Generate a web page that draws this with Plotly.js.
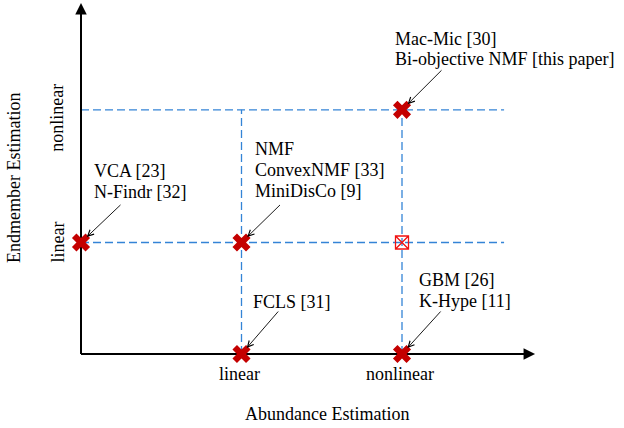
<!DOCTYPE html>
<html>
<head>
<meta charset="utf-8">
<script src="https://cdn.plot.ly/plotly-3.0.1.min.js"></script>
<style>html,body{margin:0;padding:0;background:#fff;}#chart{width:624px;height:428px;}</style>
</head>
<body>
<div id="chart"></div>
<script>
// ---- data ----
const xTickVals = [1, 2];
const xTickLabels = ['linear', 'nonlinear'];
const yTickVals = [1, 2.19];
const yTickLabels = ['linear', 'nonlinear'];
const xAxisTitle = 'Abundance Estimation';
const yAxisTitle = 'Endmember Estimation';

const methodX = [2, 1, 0, 2, 1];
const methodY = [2.19, 1, 1, 0, 0];
const methodLabels = [
  ['Mac-Mic [30]', 'Bi-objective NMF [this paper]'],
  ['NMF', 'ConvexNMF [33]', 'MiniDisCo [9]'],
  ['VCA [23]', 'N-Findr [32]'],
  ['GBM [26]', 'K-Hype [11]'],
  ['FCLS [31]']
];
const emptyX = [2];
const emptyY = [1];

// ---- layout helpers (pixel offsets) ----
const labelOffsets = [
  {dx: -9, dy: -71, sp: 20},
  {dx: 11, dy: -94, sp: 21},
  {dx: 11, dy: -72, sp: 21},
  {dx: 15, dy: -74.5, sp: 21},
  {dx: 9, dy: -52.5, sp: 21}
];
const arrowTails = [[41, -41], [40, -39], [41, -39], [40, -44], [38, -44]];

const font = {family: 'Liberation Serif, Times New Roman, serif', size: 18, color: '#000'};
const blue = '#3484d6';

const traces = [
  {
    x: emptyX, y: emptyY, mode: 'markers', type: 'scatter',
    marker: {symbol: 'square-x-open', size: 13, color: '#f01010', line: {width: 1.3, color: '#f01010'}},
    hoverinfo: 'skip'
  },
  {
    x: methodX, y: methodY, mode: 'markers', type: 'scatter',
    marker: {symbol: 'x', size: 16, color: '#c40000', line: {width: 0}},
    hoverinfo: 'skip'
  }
];

const shapes = [];
// dashed guide lines
yTickVals.forEach(v => shapes.push({type: 'line', xref: 'x', yref: 'y', x0: 0, x1: 2.636, y0: v, y1: v,
  line: {color: blue, width: 1.3, dash: '8px,4px'}, layer: 'below'}));
xTickVals.forEach(v => shapes.push({type: 'line', xref: 'x', yref: 'y', x0: v, x1: v, y0: 0, y1: yTickVals[1],
  line: {color: blue, width: 1.3, dash: '8px,4px'}, layer: 'below'}));
// axis lines
shapes.push({type: 'line', xref: 'x', yref: 'y', x0: 0, x1: 2.77, y0: 0, y1: 0, line: {color: '#000', width: 2}, layer: 'below'});
shapes.push({type: 'line', xref: 'x', yref: 'y', x0: 0, x1: 0, y0: 0, y1: 3.09, line: {color: '#000', width: 2}, layer: 'below'});

const annotations = [];
// axis arrowheads
annotations.push({x: 2.829, y: 0, xref: 'x', yref: 'y', ax: -30, ay: 0, text: '', showarrow: true,
  arrowhead: 2, arrowwidth: 2, arrowsize: 1.15, arrowcolor: '#000'});
annotations.push({x: 0, y: 3.148, xref: 'x', yref: 'y', ax: 0, ay: 30, text: '', showarrow: true,
  arrowhead: 2, arrowwidth: 2, arrowsize: 1.15, arrowcolor: '#000'});

// tick labels
xTickVals.forEach((v, i) => annotations.push({x: v, y: 0, xref: 'x', yref: 'y', text: xTickLabels[i],
  showarrow: false, xanchor: 'center', yanchor: 'middle', yshift: -20, xshift: -2, font: font}));
const yTickShift = [0, -8];
yTickVals.forEach((v, i) => annotations.push({x: 0, y: v, xref: 'x', yref: 'y', text: yTickLabels[i],
  showarrow: false, textangle: -90, xanchor: 'center', yanchor: 'middle', xshift: -24, yshift: yTickShift[i], font: font}));

// axis titles
annotations.push({x: 327 / 624, y: 1 - 414 / 428, xref: 'paper', yref: 'paper', text: xAxisTitle,
  showarrow: false, xanchor: 'center', yanchor: 'middle', font: font});
annotations.push({x: 14 / 624, y: 1 - 178 / 428, xref: 'paper', yref: 'paper', text: yAxisTitle,
  showarrow: false, textangle: -90, xanchor: 'center', yanchor: 'middle', font: font});

// method labels + pointer arrows
methodLabels.forEach((lines, g) => {
  const o = labelOffsets[g];
  lines.forEach((t, k) => annotations.push({x: methodX[g], y: methodY[g], xref: 'x', yref: 'y', text: t,
    showarrow: false, xanchor: 'left', yanchor: 'middle', xshift: o.dx, yshift: -(o.dy + k * o.sp), font: font}));
  annotations.push({x: methodX[g], y: methodY[g], xref: 'x', yref: 'y', text: '', showarrow: true,
    ax: arrowTails[g][0], ay: arrowTails[g][1], standoff: 8, arrowhead: 5, arrowwidth: 0.9, arrowsize: 1.3, arrowcolor: '#000'});
});

const layout = {
  width: 624, height: 428,
  margin: {l: 0, r: 0, t: 0, b: 0, pad: 0},
  paper_bgcolor: '#fff', plot_bgcolor: '#fff',
  showlegend: false,
  xaxis: {range: [-81 / 160.5, (624 - 81) / 160.5], visible: false, fixedrange: true},
  yaxis: {range: [(354 - 428) / 111.5, 354 / 111.5], visible: false, fixedrange: true},
  shapes: shapes,
  annotations: annotations,
  font: font
};

Plotly.newPlot('chart', traces, layout, {displayModeBar: false, staticPlot: true});
</script>
</body>
</html>
